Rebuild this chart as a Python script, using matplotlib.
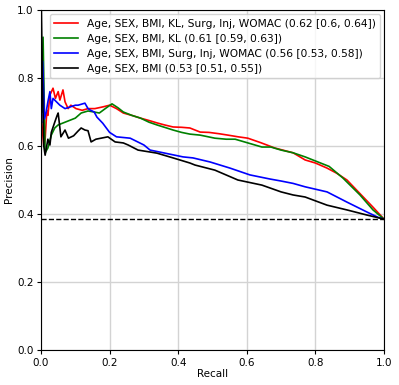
import matplotlib
matplotlib.use("Agg")
import matplotlib.pyplot as plt

labels = [
    "Age, SEX, BMI, KL, Surg, Inj, WOMAC (0.62 [0.6, 0.64])",
    "Age, SEX, BMI, KL (0.61 [0.59, 0.63])",
    "Age, SEX, BMI, Surg, Inj, WOMAC (0.56 [0.53, 0.58])",
    "Age, SEX, BMI (0.53 [0.51, 0.55])",
]
colors = ["red", "green", "blue", "black"]

r_x = [0.002, 0.008, 0.012, 0.017, 0.02, 0.026, 0.035, 0.042, 0.05, 0.055, 0.064, 0.07, 0.079, 0.087, 0.102,
       0.12, 0.137, 0.157, 0.18, 0.2, 0.22, 0.24, 0.265, 0.29, 0.315, 0.338, 0.36, 0.385, 0.41, 0.434, 0.464,
       0.49, 0.52, 0.545, 0.575, 0.603, 0.64, 0.682, 0.735, 0.77, 0.8, 0.834, 0.862, 0.892, 0.93, 0.968, 1.0]
r_y = [0.67, 0.6, 0.62, 0.705, 0.69, 0.75, 0.77, 0.74, 0.76, 0.735, 0.765, 0.73, 0.71, 0.72, 0.71,
       0.705, 0.71, 0.71, 0.715, 0.72, 0.71, 0.697, 0.69, 0.682, 0.675, 0.668, 0.662, 0.656, 0.655, 0.653, 0.641,
       0.64, 0.636, 0.632, 0.627, 0.623, 0.61, 0.594, 0.58, 0.559, 0.55, 0.535, 0.52, 0.50, 0.46, 0.42, 0.385]

g_x = [0.003, 0.006, 0.012, 0.02, 0.03, 0.04, 0.05, 0.065, 0.08, 0.1, 0.117, 0.137, 0.155, 0.17, 0.19, 0.207,
       0.225, 0.24, 0.265, 0.29, 0.315, 0.338, 0.36, 0.385, 0.41, 0.434, 0.464, 0.507, 0.54, 0.566, 0.6, 0.644,
       0.67, 0.70, 0.735, 0.77, 0.8, 0.84, 0.88, 0.93, 0.968, 1.0]
g_y = [0.70, 0.92, 0.58, 0.594, 0.632, 0.653, 0.662, 0.668, 0.674, 0.682, 0.697, 0.703, 0.70, 0.697, 0.712, 0.724,
       0.712, 0.70, 0.69, 0.682, 0.67, 0.662, 0.655, 0.647, 0.64, 0.635, 0.632, 0.623, 0.62, 0.62, 0.61, 0.597,
       0.597, 0.588, 0.58, 0.568, 0.556, 0.54, 0.506, 0.456, 0.412, 0.385]

b_x = [0.002, 0.004, 0.006, 0.01, 0.015, 0.02, 0.026, 0.03, 0.035, 0.045, 0.055, 0.07, 0.085, 0.1, 0.108,
       0.128, 0.137, 0.143, 0.155, 0.163, 0.18, 0.2, 0.22, 0.26, 0.3, 0.318, 0.347, 0.414, 0.443, 0.493, 0.551,
       0.609, 0.667, 0.70, 0.735, 0.77, 0.834, 0.892, 0.95, 0.983, 1.0]
b_y = [0.67, 0.85, 0.81, 0.68, 0.70, 0.73, 0.76, 0.71, 0.74, 0.73, 0.72, 0.71, 0.715, 0.72, 0.72,
       0.726, 0.71, 0.706, 0.70, 0.685, 0.667, 0.64, 0.627, 0.623, 0.603, 0.588, 0.582, 0.568, 0.565, 0.553, 0.535,
       0.515, 0.503, 0.497, 0.49, 0.48, 0.465, 0.435, 0.406, 0.39, 0.385]

k_x = [0.001, 0.004, 0.008, 0.012, 0.02, 0.026, 0.03, 0.04, 0.047, 0.05, 0.058, 0.07, 0.08, 0.095, 0.108,
       0.117, 0.128, 0.137, 0.146, 0.16, 0.175, 0.195, 0.216, 0.24, 0.254, 0.283, 0.32, 0.338, 0.385, 0.434,
       0.449, 0.507, 0.574, 0.644, 0.70, 0.735, 0.77, 0.834, 0.892, 0.95, 1.0]
k_y = [1.0, 0.8, 0.6, 0.573, 0.62, 0.603, 0.64, 0.67, 0.69, 0.697, 0.627, 0.647, 0.623, 0.63, 0.644,
       0.653, 0.647, 0.645, 0.612, 0.62, 0.623, 0.627, 0.612, 0.609, 0.603, 0.588, 0.582, 0.579, 0.565, 0.55,
       0.544, 0.529, 0.5, 0.485, 0.465, 0.456, 0.45, 0.426, 0.412, 0.397, 0.385]

baseline = 0.385

series = [(r_x, r_y), (g_x, g_y), (b_x, b_y), (k_x, k_y)]

fig = plt.figure(figsize=(3.99, 3.85), dpi=100)
ax = fig.add_axes([0.1028, 0.0909, 0.8596, 0.8831])

for (xs, ys), c, lab in zip(series, colors, labels):
    ax.plot(xs, ys, color=c, lw=1.2, label=lab)

ax.axhline(baseline, color="black", ls="--", lw=1.0)

ax.set_xlim(0, 1)
ax.set_ylim(0, 1)
ticks = [0.0, 0.2, 0.4, 0.6, 0.8, 1.0]
ax.set_xticks(ticks)
ax.set_yticks(ticks)
ax.tick_params(labelsize=7.5, length=3, pad=2.5)
ax.grid(True, color="#d3d3d3", lw=1.0)
ax.set_axisbelow(True)
ax.set_xlabel("Recall", fontsize=7.5, labelpad=1)
ax.set_ylabel("Precision", fontsize=7.5, labelpad=2)
ax.legend(loc="upper right", fontsize=7.7, handlelength=2.2, borderaxespad=0.4, labelspacing=0.47)

fig.savefig("out.png", dpi=100)
